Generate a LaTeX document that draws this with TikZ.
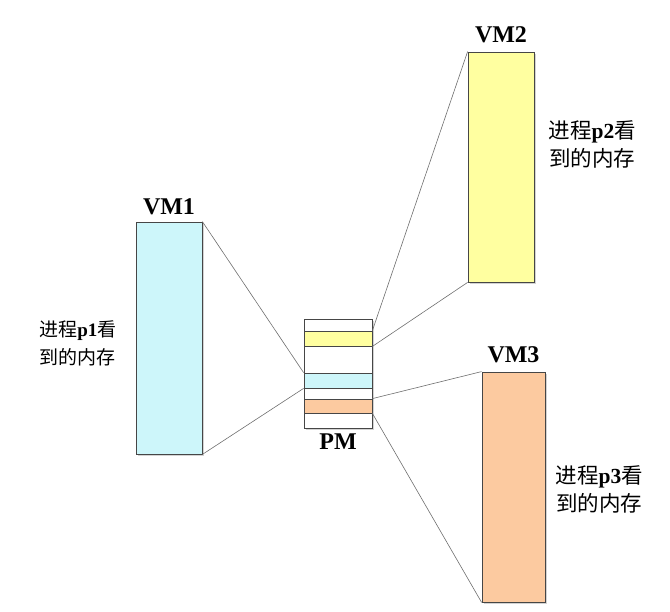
\documentclass[tikz,border=0pt]{standalone}
\usepackage{fontspec}
\setmainfont{Liberation Serif}
\newfontfamily\cjk{Noto Sans CJK SC}
\usepackage{xcolor}
\usepackage{tikz}
\usetikzlibrary{positioning,shadows}

\definecolor{vmcyan}{RGB}{205,246,250}
\definecolor{vmyellow}{RGB}{255,255,160}
\definecolor{vmorange}{RGB}{252,202,160}
\definecolor{edgegray}{RGB}{70,70,70}
\definecolor{linegray}{RGB}{110,110,110}

\tikzset{
	membox/.style = {draw=edgegray, line width=0.8pt, inner sep=0pt,
		drop shadow={shadow xshift=2pt, shadow yshift=-2pt, opacity=0.35}},
	strip/.style = {draw=edgegray, line width=0.8pt, inner sep=0pt,
		minimum width=68pt},
	vmname/.style = {font=\bfseries\fontsize{24}{24}\selectfont, inner sep=0pt},
	memtext/.style = {font=\cjk\fontsize{21.5}{28}\selectfont, align=center, inner sep=0pt},
	maplink/.style = {draw=linegray, line width=0.6pt}
}

\begin{document}
\begin{tikzpicture}[x=1pt, y=-1pt]
	\useasboundingbox (0,0) rectangle (670,612);
	
	% virtual memories
	\node [membox, fill=vmcyan, minimum width=66pt, minimum height=232pt] (vm1) at (169,338) {};
	\node [membox, fill=vmyellow, minimum width=66pt, minimum height=230pt] (vm2) at (501,167) {};
	\node [membox, fill=vmorange, minimum width=63pt, minimum height=230pt] (vm3) at (513.5,487) {};
	
	% physical memory
	\node [membox, fill=white, minimum width=68pt, minimum height=109pt] (pm) at (338,373.5) {};
	\node [strip, fill=vmyellow, minimum height=15pt] (pm2) at (338,338.5) {};
	\node [strip, fill=vmcyan, minimum height=15pt] (pm1) at (338,380.5) {};
	\node [strip, fill=vmorange, minimum height=14pt] (pm3) at (338,406) {};
	
	% names
	\node [vmname, above=7pt of vm1] {VM1};
	\node [vmname, above=9pt of vm2] {VM2};
	\node [vmname, above=9pt of vm3] {VM3};
	\node [vmname, below=5pt of pm] {PM};
	
	% mappings
	\draw [maplink] (vm1.north east) -- (pm1.north west);
	\draw [maplink] (vm1.south east) -- (pm1.south west);
	\draw [maplink] (vm2.north west) -- (pm2.north east);
	\draw [maplink] (vm2.south west) -- (pm2.south east);
	\draw [maplink] (vm3.north west) -- (pm3.north east);
	\draw [maplink] (vm3.south west) -- (pm3.south east);
	
	% captions
	\node [memtext, font=\cjk\fontsize{19}{28}\selectfont, left=19pt of vm1, yshift=-5pt] (txt1) {进程{\rmfamily\bfseries p1}看\\到的内存};
	\node [memtext, right=14pt of vm2, yshift=23pt] (txt2) {进程{\rmfamily\bfseries p2}看\\到的内存};
	\node [memtext, right=10pt of vm3, yshift=-2pt] (txt3) {进程{\rmfamily\bfseries p3}看\\到的内存};
\end{tikzpicture}
\end{document}
